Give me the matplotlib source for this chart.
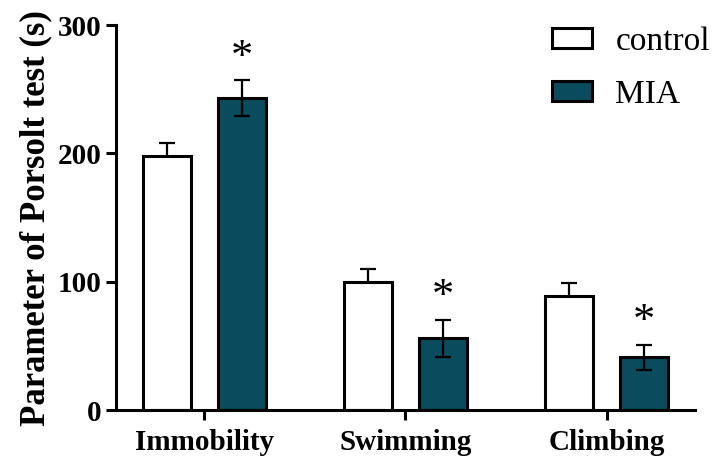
import numpy as np
import matplotlib
matplotlib.use('Agg')
import matplotlib.pyplot as plt

# data
categories = ['Immobility', 'Swimming', 'Climbing']
control_mean = [198, 100, 89]
control_err = [10, 10, 10]
mia_mean = [243, 56, 41]
mia_err = [14, 14.5, 9.5]

plt.rcParams['font.family'] = ['Liberation Serif', 'DejaVu Serif']

fig = plt.figure(figsize=(7.13, 4.57), dpi=100)
ax = fig.add_axes([0.1627, 0.1028, 0.812, 0.842])

x = np.arange(len(categories))
w = 0.24
off = 0.187
teal = '#0a4b5d'

ax.bar(x - off, control_mean, w, color='white', edgecolor='black', linewidth=2.2,
       label='control', zorder=2)
ax.errorbar(x - off, control_mean, yerr=control_err, fmt='none', ecolor='black',
            elinewidth=1.6, capsize=5.5, capthick=1.6, zorder=1)
ax.bar(x + off, mia_mean, w, color=teal, edgecolor='black', linewidth=2.2,
       label='MIA', zorder=2)
ax.errorbar(x + off, mia_mean, yerr=mia_err, fmt='none', ecolor='black',
            elinewidth=1.6, capsize=5.5, capthick=1.6, zorder=3)

# significance stars
for xi, m, e in zip(x + off, mia_mean, mia_err):
    ax.annotate('*', (xi, m + e), xytext=(0, 2), textcoords='offset points',
                ha='center', va='bottom', fontsize=32)

ax.set_xlim(-0.44, 2.44)
ax.set_ylim(0, 300)
ax.set_yticks([0, 100, 200, 300])
ax.set_xticks(x)
ax.set_xticklabels(categories)
ax.set_ylabel('Parameter of Porsolt test (s)', fontsize=25, fontweight='bold', labelpad=4)

for s in ['top', 'right']:
    ax.spines[s].set_visible(False)
for s in ['left', 'bottom']:
    ax.spines[s].set_linewidth(2.2)
ax.tick_params(axis='both', width=2.2, length=7, labelsize=21)
ax.tick_params(axis='x', pad=7)
for lab in ax.get_xticklabels() + ax.get_yticklabels():
    lab.set_fontweight('bold')

ax.legend(loc='upper left', bbox_to_anchor=(552 / 713, 1 - 26 / 457),
          bbox_transform=fig.transFigure, frameon=False, fontsize=24,
          borderpad=0, borderaxespad=0,
          handlelength=1.2, handleheight=0.54, handletextpad=0.7, labelspacing=0.68)

fig.savefig('out.png', dpi=100)
